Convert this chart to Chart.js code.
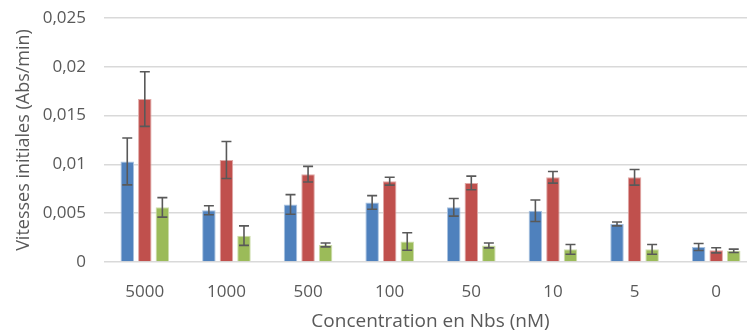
<!DOCTYPE html>
<html>
<head>
<meta charset="utf-8">
<script src="https://cdn.jsdelivr.net/npm/chart.js@4/dist/chart.umd.min.js"></script>
<style>
html,body{margin:0;padding:0;background:#fff;overflow:hidden;width:747px;height:333px;}
#wrap{position:absolute;left:0;top:0;width:757px;height:333px;}
</style>
</head>
<body>
<div id="wrap"><canvas id="c"></canvas></div>
<script>
const categories = ['5000','1000','500','100','50','10','5','0'];
const seriesA = [0.0103, 0.00530, 0.0059, 0.0061, 0.0056, 0.00525, 0.0039, 0.00154];
const seriesB = [0.0167, 0.01045, 0.0090, 0.00828, 0.0081, 0.00868, 0.00868, 0.0012];
const seriesC = [0.0056, 0.0027, 0.00175, 0.0021, 0.0017, 0.0013, 0.0013, 0.00115];
const errA = [0.0024, 0.00046, 0.0010, 0.0007, 0.0009, 0.0011, 0.0002, 0.00036];
const errB = [0.0028, 0.0019, 0.0008, 0.0004, 0.0007, 0.0006, 0.0008, 0.00026];
const errC = [0.0010, 0.0010, 0.0002, 0.0009, 0.00025, 0.0005, 0.0005, 0.00017];
const yTicks = [0, 0.005, 0.01, 0.015, 0.02, 0.025];
const yTickLabels = ['0', '0,005', '0,01', '0,015', '0,02', '0,025'];

const FONT = 'Open Sans';
const TXT = '#595959';

const errorBars = {
  id: 'errorBars',
  afterDatasetsDraw(chart) {
    const ctx = chart.ctx;
    const y = chart.scales.y;
    ctx.save();
    ctx.strokeStyle = '#595959';
    ctx.lineWidth = 1.6;
    chart.data.datasets.forEach((ds, di) => {
      const meta = chart.getDatasetMeta(di);
      meta.data.forEach((bar, i) => {
        const v = ds.data[i], e = ds.errors[i];
        const x = bar.x;
        const yt = y.getPixelForValue(v + e);
        const yb = y.getPixelForValue(v - e);
        ctx.beginPath();
        ctx.moveTo(x, yt); ctx.lineTo(x, yb);
        ctx.moveTo(x - 5, yt); ctx.lineTo(x + 5, yt);
        ctx.moveTo(x - 5, yb); ctx.lineTo(x + 5, yb);
        ctx.stroke();
      });
    });
    ctx.restore();
  }
};

new Chart(document.getElementById('c'), {
  type: 'bar',
  data: {
    labels: categories,
    datasets: [
      {data: seriesA, errors: errA, backgroundColor: '#4F81BD', borderColor: '#A9C2E0', borderWidth: 1},
      {data: seriesB, errors: errB, backgroundColor: '#C0504D', borderColor: '#E0A9A7', borderWidth: 1},
      {data: seriesC, errors: errC, backgroundColor: '#9BBB59', borderColor: '#CDDDAC', borderWidth: 1}
    ]
  },
  options: {
    responsive: true,
    maintainAspectRatio: false,
    animation: false,
    layout: {padding: {top: 18, right: 0, left: 0, bottom: 0}},
    datasets: {bar: {categoryPercentage: 0.645, barPercentage: 0.77}},
    plugins: {legend: {display: false}, tooltip: {enabled: false}},
    scales: {
      x: {
        grid: {display: false},
        border: {display: false},
        ticks: {color: TXT, font: {family: FONT, size: 17}, padding: 12},
        title: {display: true, text: 'Concentration en Nbs (nM)', color: TXT, font: {family: FONT, size: 19}, padding: {top: 5, bottom: 0}},
        afterFit(s) { s.height = 71; s.paddingLeft = 0; s.paddingRight = 0; }
      },
      y: {
        min: 0, max: 0.025,
        afterBuildTicks(s) { s.ticks = yTicks.map(v => ({value: v})); },
        grid: {color: '#D9D9D9', lineWidth: 1.5, drawTicks: false},
        border: {display: false},
        ticks: {color: TXT, font: {family: FONT, size: 17}, padding: 18,
          callback: (v) => { const k = yTicks.indexOf(v); return k >= 0 ? yTickLabels[k] : ''; }},
        title: {display: true, text: 'Vitesses initiales (Abs/min)', color: TXT, font: {family: FONT, size: 18}, padding: {top: 13, bottom: 0}},
        afterFit(s) { s.width = 104; s.paddingTop = 0; s.paddingBottom = 0; }
      }
    }
  },
  plugins: [errorBars]
});
</script>
</body>
</html>
